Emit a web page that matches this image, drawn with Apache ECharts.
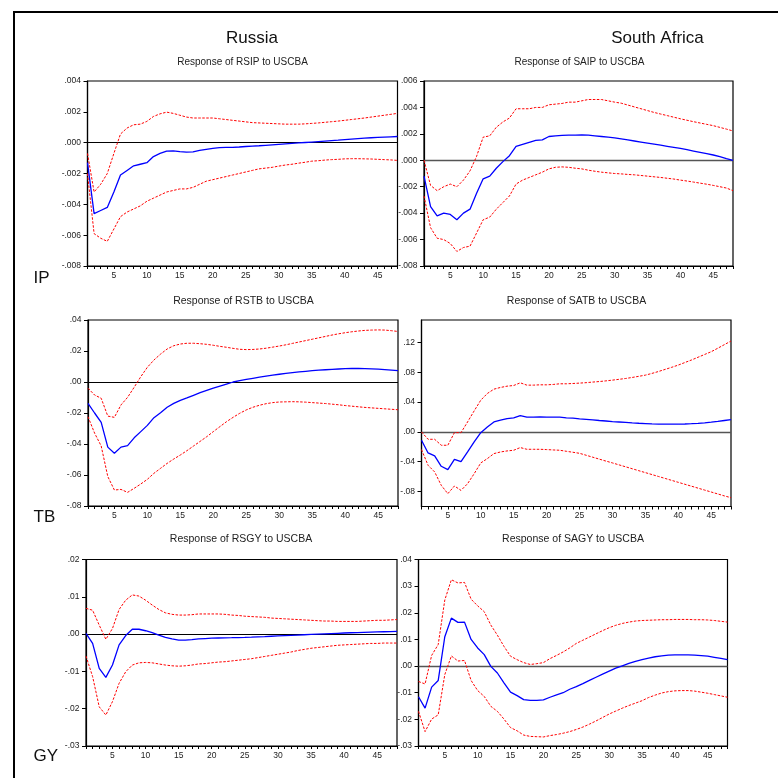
<!DOCTYPE html>
<html>
<head>
<meta charset="utf-8">
<script src="https://cdn.jsdelivr.net/npm/echarts@6/dist/echarts.min.js"></script>
<style>
html,body{margin:0;padding:0;background:#fff;}
#chart{width:778px;height:778px;}
</style>
</head>
<body>
<div id="chart"></div>
<script>
// ---------------- DATA ----------------
const periods = Array.from({length: 48}, (_, i) => i + 1);
const xTickLabels = [5, 10, 15, 20, 25, 30, 35, 40, 45];

const countryTitles = ['Russia', 'South Africa'];
const rowLabels = ['IP', 'TB', 'GY'];
const panelTitles = ['Response of RSIP to USCBA', 'Response of SAIP to USCBA',
  'Response of RSTB to USCBA', 'Response of SATB to USCBA',
  'Response of RSGY to USCBA', 'Response of SAGY to USCBA'];

// y tick labels per panel
const rsipTicks = [-0.008, -0.006, -0.004, -0.002, 0, 0.002, 0.004];
const saipTicks = [-0.008, -0.006, -0.004, -0.002, 0, 0.002, 0.004, 0.006];
const rstbTicks = [-0.08, -0.06, -0.04, -0.02, 0, 0.02, 0.04];
const satbTicks = [-0.08, -0.04, 0, 0.04, 0.08, 0.12];
const rsgyTicks = [-0.03, -0.02, -0.01, 0, 0.01, 0.02];
const sagyTicks = [-0.03, -0.02, -0.01, 0, 0.01, 0.02, 0.03, 0.04];

// RSIP
const rsipResp = [-0.0013,-0.0046,-0.0044,-0.0042,-0.0032,-0.0021,-0.0018,-0.0015,-0.0014,-0.0013,
  -0.0009,-0.0007,-0.00055,-0.00053,-0.00058,-0.00062,-0.0006,-0.0005,-0.00043,-0.00037,
  -0.00032,-0.0003,-0.0003,-0.00028,-0.00025,-0.00022,-0.0002,-0.00017,-0.00014,-0.00011,
  -0.00008,-0.00005,-0.00002,0.00001,0.00004,0.00007,0.0001,0.00013,0.00016,0.0002,
  0.00023,0.00026,0.00029,0.00032,0.00034,0.00036,0.00038,0.0004];
const rsipUpper = [-0.0007,-0.0032,-0.0027,-0.002,-0.0007,0.00056,0.00095,0.00116,0.0012,0.00138,
  0.0017,0.00187,0.00198,0.0019,0.00178,0.00166,0.0016,0.0016,0.0016,0.0016,
  0.00155,0.0015,0.00145,0.0014,0.00135,0.0013,0.00128,0.00126,0.00124,0.00122,
  0.0012,0.0012,0.0012,0.00122,0.00125,0.00128,0.00132,0.00136,0.0014,0.00145,
  0.0015,0.00155,0.0016,0.00166,0.00172,0.00178,0.00184,0.0019];
const rsipLower = [-0.002,-0.0059,-0.0062,-0.0064,-0.0056,-0.0048,-0.0045,-0.0043,-0.0041,-0.0038,
  -0.0036,-0.0034,-0.0032,-0.0031,-0.003,-0.003,-0.0029,-0.0027,-0.0025,-0.0024,
  -0.0023,-0.0022,-0.0021,-0.002,-0.0019,-0.0018,-0.0017,-0.00165,-0.0016,-0.00152,
  -0.00145,-0.0014,-0.00133,-0.00127,-0.0012,-0.00117,-0.00113,-0.0011,-0.00108,-0.00105,
  -0.00104,-0.00104,-0.00105,-0.00106,-0.00108,-0.0011,-0.00112,-0.00115];

// SAIP
const saipResp = [-0.0012,-0.0035,-0.0042,-0.004,-0.0041,-0.0045,-0.004,-0.0037,-0.0025,-0.0014,
  -0.0012,-0.0006,-0.0001,0.00035,0.00105,0.0012,0.00135,0.0015,0.00155,0.0018,
  0.00185,0.00188,0.0019,0.0019,0.00192,0.0019,0.00185,0.0018,0.00175,0.0017,
  0.00162,0.00154,0.00146,0.00138,0.0013,0.00122,0.00114,0.00106,0.00098,0.0009,
  0.0008,0.0007,0.0006,0.0005,0.0004,0.00027,0.00013,0.0];
const saipUpper = [0.0,-0.0019,-0.0023,-0.002,-0.0018,-0.002,-0.0015,-0.0008,0.0003,0.00175,
  0.00185,0.0025,0.0029,0.0032,0.0039,0.0039,0.0039,0.004,0.004,0.0042,
  0.00425,0.0043,0.0044,0.0044,0.0045,0.0046,0.0046,0.0046,0.0045,0.0044,
  0.00432,0.00418,0.00404,0.0039,0.00376,0.00362,0.0035,0.00338,0.00326,0.00314,
  0.00303,0.00292,0.00282,0.00272,0.00262,0.00249,0.00236,0.00222];
const saipLower = [-0.0027,-0.0051,-0.0059,-0.006,-0.0063,-0.0069,-0.0066,-0.0065,-0.0055,-0.0045,
  -0.0043,-0.0037,-0.0032,-0.0027,-0.0018,-0.0015,-0.0013,-0.0011,-0.0009,-0.00065,
  -0.00053,-0.0005,-0.00053,-0.0006,-0.00065,-0.00075,-0.00083,-0.0009,-0.00095,-0.001,
  -0.00103,-0.00107,-0.0011,-0.00115,-0.0012,-0.00125,-0.0013,-0.00136,-0.00142,-0.0015,
  -0.00157,-0.00165,-0.00173,-0.00181,-0.0019,-0.002,-0.0021,-0.0023];

// RSTB
const rstbResp = [-0.0138,-0.020,-0.026,-0.042,-0.046,-0.042,-0.041,-0.036,-0.032,-0.028,
  -0.023,-0.0198,-0.0163,-0.0138,-0.0118,-0.0103,-0.0086,-0.0069,-0.0054,-0.0039,
  -0.0026,-0.0013,0.0,0.0009,0.0017,0.0024,0.0031,0.0038,0.0044,0.005,
  0.0055,0.006,0.0065,0.0069,0.0073,0.0076,0.0079,0.0082,0.0084,0.0086,
  0.0087,0.0087,0.0086,0.0085,0.0083,0.008,0.0077,0.0073];
const rstbUpper = [-0.004,-0.0084,-0.0105,-0.022,-0.0228,-0.0148,-0.0099,-0.0034,0.0034,0.0095,
  0.0142,0.018,0.0213,0.0234,0.0245,0.025,0.025,0.0247,0.0243,0.0237,
  0.023,0.0224,0.0217,0.0211,0.0209,0.021,0.0213,0.0218,0.0225,0.0232,
  0.024,0.0249,0.0258,0.0267,0.0276,0.0285,0.0294,0.0303,0.0311,0.0318,
  0.0324,0.0329,0.0333,0.0335,0.0336,0.0335,0.0331,0.0326];
const rstbLower = [-0.0224,-0.033,-0.0413,-0.061,-0.0697,-0.0693,-0.0712,-0.0686,-0.0658,-0.0628,
  -0.0589,-0.0557,-0.0525,-0.0497,-0.0471,-0.0443,-0.0413,-0.0383,-0.0353,-0.032,
  -0.0288,-0.0256,-0.0228,-0.0202,-0.018,-0.0163,-0.015,-0.014,-0.0133,-0.0129,
  -0.0128,-0.0127,-0.0128,-0.013,-0.0133,-0.0136,-0.0139,-0.0143,-0.0147,-0.0152,
  -0.0156,-0.016,-0.0164,-0.0167,-0.017,-0.0173,-0.0176,-0.0179];

// SATB
const satbResp = [-0.0112,-0.0282,-0.0322,-0.0461,-0.0506,-0.0367,-0.0399,-0.0269,-0.0134,-0.001,
  0.0067,0.0134,0.0157,0.0179,0.0188,0.0219,0.0197,0.0197,0.0202,0.0197,
  0.0197,0.0197,0.0188,0.0184,0.0175,0.0168,0.0161,0.0153,0.0146,0.0139,
  0.0133,0.0127,0.0121,0.0116,0.0112,0.0108,0.0105,0.0103,0.0103,0.0104,
  0.0106,0.011,0.0115,0.0122,0.013,0.0141,0.0153,0.0165];
const satbUpper = [0.0,-0.0099,-0.0099,-0.0179,-0.0179,-0.001,-0.001,0.0134,0.0282,0.0425,
  0.0515,0.0573,0.0596,0.0613,0.0622,0.0658,0.0627,0.0627,0.0631,0.0631,
  0.0636,0.0645,0.0645,0.0649,0.0654,0.066,0.0668,0.0675,0.0684,0.0694,
  0.0705,0.0716,0.073,0.0745,0.0761,0.0784,0.081,0.0838,0.0866,0.0896,
  0.093,0.0964,0.1001,0.1038,0.1075,0.1122,0.117,0.1218];
const satbLower = [-0.0237,-0.0448,-0.0537,-0.0716,-0.0828,-0.0725,-0.0784,-0.0694,-0.056,-0.0416,
  -0.0358,-0.0291,-0.0269,-0.0255,-0.0246,-0.021,-0.0233,-0.0233,-0.0233,-0.0237,
  -0.0242,-0.0246,-0.026,-0.0273,-0.0287,-0.0313,-0.0339,-0.0365,-0.0391,-0.0416,
  -0.0442,-0.0468,-0.0494,-0.052,-0.0546,-0.0572,-0.0598,-0.0624,-0.065,-0.0676,
  -0.0702,-0.0728,-0.0754,-0.078,-0.0806,-0.0832,-0.0858,-0.0882];

// RSGY
const rsgyResp = [0.0002,-0.0025,-0.0092,-0.0116,-0.0083,-0.0029,-0.0004,0.0013,0.0013,0.0009,
  0.0004,-0.0003,-0.0009,-0.0013,-0.0016,-0.0016,-0.0015,-0.0013,-0.0012,-0.0011,
  -0.00105,-0.001,-0.00097,-0.00093,-0.0009,-0.00083,-0.00075,-0.00067,-0.00058,-0.0005,
  -0.00042,-0.00034,-0.00026,-0.00018,-0.0001,-0.00002,0.00006,0.00014,0.00022,0.0003,
  0.00036,0.00042,0.00048,0.00053,0.00058,0.00063,0.00068,0.00072];
const rsgyUpper = [0.0069,0.0064,0.0024,-0.0014,0.0015,0.0066,0.0091,0.0105,0.0102,0.0091,
  0.0078,0.0066,0.0057,0.0053,0.0051,0.0051,0.0052,0.0054,0.0054,0.0054,
  0.0054,0.0053,0.0051,0.005,0.0048,0.0047,0.0046,0.0045,0.0043,0.0042,
  0.0041,0.004,0.0039,0.0038,0.0037,0.0036,0.0035,0.0035,0.0034,0.0034,
  0.0034,0.0034,0.0035,0.0036,0.0037,0.0037,0.0038,0.0039];
const rsgyLower = [-0.0059,-0.0114,-0.0195,-0.0217,-0.0181,-0.0132,-0.0101,-0.0083,-0.0077,-0.0076,
  -0.0077,-0.008,-0.0083,-0.0085,-0.0086,-0.0085,-0.0083,-0.008,-0.0079,-0.0077,
  -0.0075,-0.0074,-0.0072,-0.007,-0.0068,-0.0066,-0.0063,-0.006,-0.0057,-0.0054,
  -0.0051,-0.0048,-0.0044,-0.0041,-0.0038,-0.0036,-0.0034,-0.0032,-0.003,-0.0029,
  -0.0028,-0.0027,-0.0026,-0.0025,-0.0025,-0.0024,-0.0024,-0.0024];

// SAGY
const sagyResp = [-0.0115,-0.0158,-0.0079,-0.0054,0.011,0.018,0.0164,0.0165,0.01,0.0068,
  0.0043,-0.0001,-0.0026,-0.0063,-0.0098,-0.0111,-0.0126,-0.0129,-0.0129,-0.0127,
  -0.0117,-0.0108,-0.01,-0.0087,-0.0077,-0.0066,-0.0054,-0.0042,-0.003,-0.0019,
  -0.0008,0.0001,0.001,0.0018,0.0024,0.003,0.0035,0.0038,0.0041,0.0042,
  0.0042,0.0042,0.0041,0.0039,0.0037,0.0033,0.0029,0.0024];
const sagyUpper = [-0.0058,-0.0067,0.004,0.0081,0.0248,0.0324,0.0312,0.0314,0.0251,0.0226,
  0.0204,0.0154,0.0116,0.0074,0.0037,0.0024,0.0013,0.0006,0.0009,0.0013,
  0.0028,0.004,0.0053,0.0068,0.0085,0.0097,0.0109,0.0121,0.0133,0.0144,
  0.0153,0.016,0.0165,0.0169,0.0171,0.0172,0.0173,0.0174,0.0174,0.0175,
  0.0175,0.0175,0.0174,0.0174,0.0173,0.0171,0.0168,0.0165];
const sagyLower = [-0.017,-0.0246,-0.0199,-0.0183,-0.0032,0.0038,0.0019,0.0021,-0.0054,-0.0092,
  -0.0114,-0.0151,-0.017,-0.0199,-0.0231,-0.0243,-0.0259,-0.0264,-0.0265,-0.0266,
  -0.0261,-0.0257,-0.0252,-0.0246,-0.0238,-0.0229,-0.0218,-0.0206,-0.0193,-0.018,
  -0.0169,-0.0158,-0.0148,-0.0139,-0.013,-0.0118,-0.0109,-0.0101,-0.0096,-0.0093,
  -0.0092,-0.0092,-0.0094,-0.0098,-0.0102,-0.0107,-0.0112,-0.0117];

// ---------------- LAYOUT ----------------
const panels = [
  {grid:{left:87.5, top:81, width:310, height:185}, ymin:-0.008, ymax:0.004, ticks:rsipTicks, dec:3, series:[rsipResp, rsipUpper, rsipLower], zero:'#000', zw:1, title:panelTitles[0], tx:242.5, ty:62, fs:10},
  {grid:{left:424, top:81, width:309, height:185}, ymin:-0.008, ymax:0.006, ticks:saipTicks, dec:3, series:[saipResp, saipUpper, saipLower], zero:'#555', zw:1.3, title:panelTitles[1], tx:579.5, ty:62, fs:10},
  {grid:{left:88, top:320, width:310, height:186}, ymin:-0.08, ymax:0.04, ticks:rstbTicks, dec:2, series:[rstbResp, rstbUpper, rstbLower], zero:'#000', zw:1, title:panelTitles[2], tx:243.5, ty:301, fs:10.5},
  {grid:{left:421.5, top:320, width:309.5, height:186.5}, ymin:-0.10, ymax:0.15, ticks:satbTicks, dec:2, series:[satbResp, satbUpper, satbLower], zero:'#555', zw:1.3, title:panelTitles[3], tx:576.5, ty:301, fs:10.5},
  {grid:{left:86, top:559.5, width:311, height:186.5}, ymin:-0.03, ymax:0.02, ticks:rsgyTicks, dec:2, series:[rsgyResp, rsgyUpper, rsgyLower], zero:'#000', zw:1, title:panelTitles[4], tx:241, ty:539.5, fs:10.5},
  {grid:{left:418.5, top:559.5, width:309, height:186.5}, ymin:-0.03, ymax:0.04, ticks:sagyTicks, dec:2, series:[sagyResp, sagyUpper, sagyLower], zero:'#555', zw:1.3, title:panelTitles[5], tx:573, ty:539.5, fs:10.5}
];

const FONT = '"Liberation Sans", Arial, Helvetica, sans-serif';
const fmtY = dec => v => {
  const s = (Math.abs(v) < 1e-12 ? 0 : v).toFixed(dec);
  return s.replace('0.', '.');
};

const grids = [], xAxes = [], yAxes = [], series = [], graphics = [];

panels.forEach((p, i) => {
  grids.push(Object.assign({show:true, borderColor:'#000', borderWidth:1.2, backgroundColor:'#fff', containLabel:false, outerBoundsMode:'none'}, p.grid));
  xAxes.push({
    type:'value', gridIndex:i, min:1, max:48, interval:1,
    axisLine:{show:true, onZero:false, lineStyle:{color:'#000', width:1.2}},
    axisTick:{show:true, inside:false, length:3, lineStyle:{color:'#000', width:1}, customValues: periods},
    axisLabel:{show:true, margin:5, fontSize:8.5, color:'#222', fontFamily:FONT, customValues: xTickLabels,
      formatter: v => (v % 5 === 0 ? String(v) : '')},
    splitLine:{show:false}
  });
  yAxes.push({
    type:'value', gridIndex:i, min:p.ymin, max:p.ymax,
    axisLine:{show:true, onZero:false, lineStyle:{color:'#000', width:1.2}},
    axisTick:{show:true, inside:false, length:4, lineStyle:{color:'#000', width:1}, customValues: p.ticks},
    axisLabel:{show:true, margin:6.5, fontSize:8.5, color:'#222', fontFamily:FONT, customValues: p.ticks, formatter: fmtY(p.dec)},
    splitLine:{show:false}
  });
  const [resp, up, lo] = p.series;
  series.push({
    type:'line', xAxisIndex:i, yAxisIndex:i, data: periods.map((x, k) => [x, resp[k]]),
    showSymbol:false, symbol:'none', silent:true, z:4,
    lineStyle:{color:'#0000ff', width:1.3},
    markLine:{silent:true, symbol:['none','none'], label:{show:false},
      lineStyle:{color:p.zero, width:p.zw, type:'solid'}, data:[{yAxis:0}], z:3}
  });
  series.push({
    type:'line', xAxisIndex:i, yAxisIndex:i, data: periods.map((x, k) => [x, up[k]]),
    showSymbol:false, symbol:'none', silent:true, z:3,
    lineStyle:{color:'#ff0000', width:1, type:[2.5, 1.5]}
  });
  series.push({
    type:'line', xAxisIndex:i, yAxisIndex:i, data: periods.map((x, k) => [x, lo[k]]),
    showSymbol:false, symbol:'none', silent:true, z:3,
    lineStyle:{color:'#ff0000', width:1, type:[2.5, 1.5]}
  });
  graphics.push({type:'text', x:p.tx, y:p.ty, silent:true,
    style:{text:p.title, fontSize:p.fs, fontFamily:FONT, fill:'#222', align:'center', verticalAlign:'middle', textAlign:'center', textVerticalAlign:'middle'}});
});

// outer frame (left & top visible)
graphics.push({type:'rect', shape:{x:14, y:12, width:820, height:820}, silent:true,
  style:{fill:'none', stroke:'#000', lineWidth:2}});
// country titles
graphics.push({type:'text', x:252, y:38.5, silent:true,
  style:{text:countryTitles[0], fontSize:17, fontFamily:FONT, fill:'#111', align:'center', verticalAlign:'middle', textAlign:'center', textVerticalAlign:'middle'}});
graphics.push({type:'text', x:657.5, y:38.5, silent:true,
  style:{text:countryTitles[1], fontSize:17, fontFamily:FONT, fill:'#111', align:'center', verticalAlign:'middle', textAlign:'center', textVerticalAlign:'middle'}});
// row labels
const rowY = [278, 517.5, 756.5];
rowLabels.forEach((t, r) => {
  graphics.push({type:'text', x:33.5, y:rowY[r], silent:true,
    style:{text:t, fontSize:17, fontFamily:FONT, fill:'#111', align:'left', verticalAlign:'middle', textAlign:'left', textVerticalAlign:'middle'}});
});

const chart = echarts.init(document.getElementById('chart'), null, {renderer:'canvas'});
chart.setOption({
  animation:false,
  backgroundColor:'#fff',
  grid: grids,
  xAxis: xAxes,
  yAxis: yAxes,
  series: series,
  graphic: graphics
});
</script>
</body>
</html>
